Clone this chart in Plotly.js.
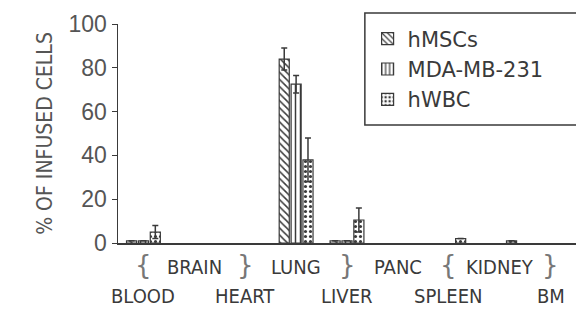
<!DOCTYPE html>
<html>
<head>
<meta charset="utf-8">
<script src="https://cdn.plot.ly/plotly-3.0.1.min.js"></script>
<style>html,body{margin:0;padding:0;background:#fff;}#chart{width:576px;height:312px;}</style>
</head>
<body>
<div id="chart"></div>
<script>
const categories = ["BLOOD", "BRAIN", "HEART", "LUNG", "LIVER", "PANC", "SPLEEN", "KIDNEY", "BM"];
const seriesNames = ["hMSCs", "MDA-MB-231", "hWBC"];
const hMSCs = [1, null, null, 84, 1, null, null, null, null];
const hMSCsErr = [0, 0, 0, 5, 0, 0, 0, 0, 0];
const mda = [1, null, null, 72.5, 1, null, null, null, null];
const mdaErr = [0, 0, 0, 4, 0, 0, 0, 0, 0];
const hWBC = [5, null, null, 38, 10.5, null, 2, 1, null];
const hWBCErr = [3, 0, 0, 10, 5.5, 0, 0, 0, 0];
const yTicks = [0, 20, 40, 60, 80, 100];
// labels alternate between two rows; braces lead to the lower row
const lowerRow = ["BLOOD", "HEART", "LIVER", "SPLEEN", "BM"];
const braces = {"BLOOD": "{", "HEART": "}", "LIVER": "}", "SPLEEN": "{", "BM": "}"};

const narrow = '"DejaVu Sans Condensed", "Liberation Sans", Arial, sans-serif';
const ink = '#3a3a3a';

function mk(name, y, err, shape) {
  return {
    type: 'bar', name: name, x: categories, y: y,
    marker: {color: '#fff', line: {color: ink, width: 1.2},
             pattern: {shape: shape, fgcolor: ink, bgcolor: '#fff', size: 5, solidity: 0.3}},
    error_y: {type: 'data', array: err, visible: true, color: ink, thickness: 1.5, width: 3}
  };
}
const data = [
  mk(seriesNames[0], hMSCs, hMSCsErr, '\\'),
  mk(seriesNames[1], mda, mdaErr, '|'),
  mk(seriesNames[2], hWBC, hWBCErr, '.')
];

const labelAnns = categories.map(c => ({
  x: c, xref: 'x', y: lowerRow.includes(c) ? -0.242 : -0.11, yref: 'paper',
  yanchor: 'middle', xanchor: 'center', showarrow: false, text: c,
  font: {family: narrow, size: 20, color: ink}
}));
const braceAnns = lowerRow.map(c => ({
  x: c, xref: 'x', y: -0.1, yref: 'paper', yanchor: 'middle', showarrow: false,
  text: braces[c], font: {family: 'DejaVu Sans', size: 26, color: '#777'}
}));

const layout = {
  width: 576, height: 312,
  margin: {l: 118, r: 0, t: 24, b: 69, autoexpand: false},
  paper_bgcolor: '#fff', plot_bgcolor: '#fff',
  barmode: 'group', bargap: 0.3, bargroupgap: 0.15,
  showlegend: true,
  legend: {x: 0.545, y: 1.025, xanchor: 'left', yanchor: 'top',
           bgcolor: 'rgba(0,0,0,0)', borderwidth: 0,
           font: {family: 'DejaVu Sans, sans-serif', size: 21, color: ink},
           itemwidth: 30, tracegroupgap: 0},
  shapes: [{type: 'rect', xref: 'paper', yref: 'paper', x0: 0.539, x1: 1.01, y0: 0.539, y1: 1.05,
            line: {color: ink, width: 1.5}, fillcolor: 'rgba(0,0,0,0)', layer: 'above'}],
  xaxis: {
    type: 'category', categoryorder: 'array', categoryarray: categories,
    range: [-0.5, categories.length - 0.5],
    showticklabels: false, automargin: false,
    showline: true, linecolor: ink, linewidth: 1.5, ticks: '', showgrid: false, zeroline: false
  },
  yaxis: {
    range: [0, 100], tickmode: 'array', tickvals: yTicks, automargin: false,
    showline: true, linecolor: ink, linewidth: 1.5, ticks: 'outside', ticklen: 5, tickcolor: ink,
    showgrid: false, zeroline: false,
    tickfont: {family: 'Liberation Sans, Arial, sans-serif', size: 23, color: '#555'},
    title: {text: '% OF INFUSED CELLS', standoff: 10, font: {family: narrow, size: 21, color: '#555'}}
  },
  annotations: labelAnns.concat(braceAnns)
};
Plotly.newPlot('chart', data, layout, {displayModeBar: false, staticPlot: true});
</script>
</body>
</html>
